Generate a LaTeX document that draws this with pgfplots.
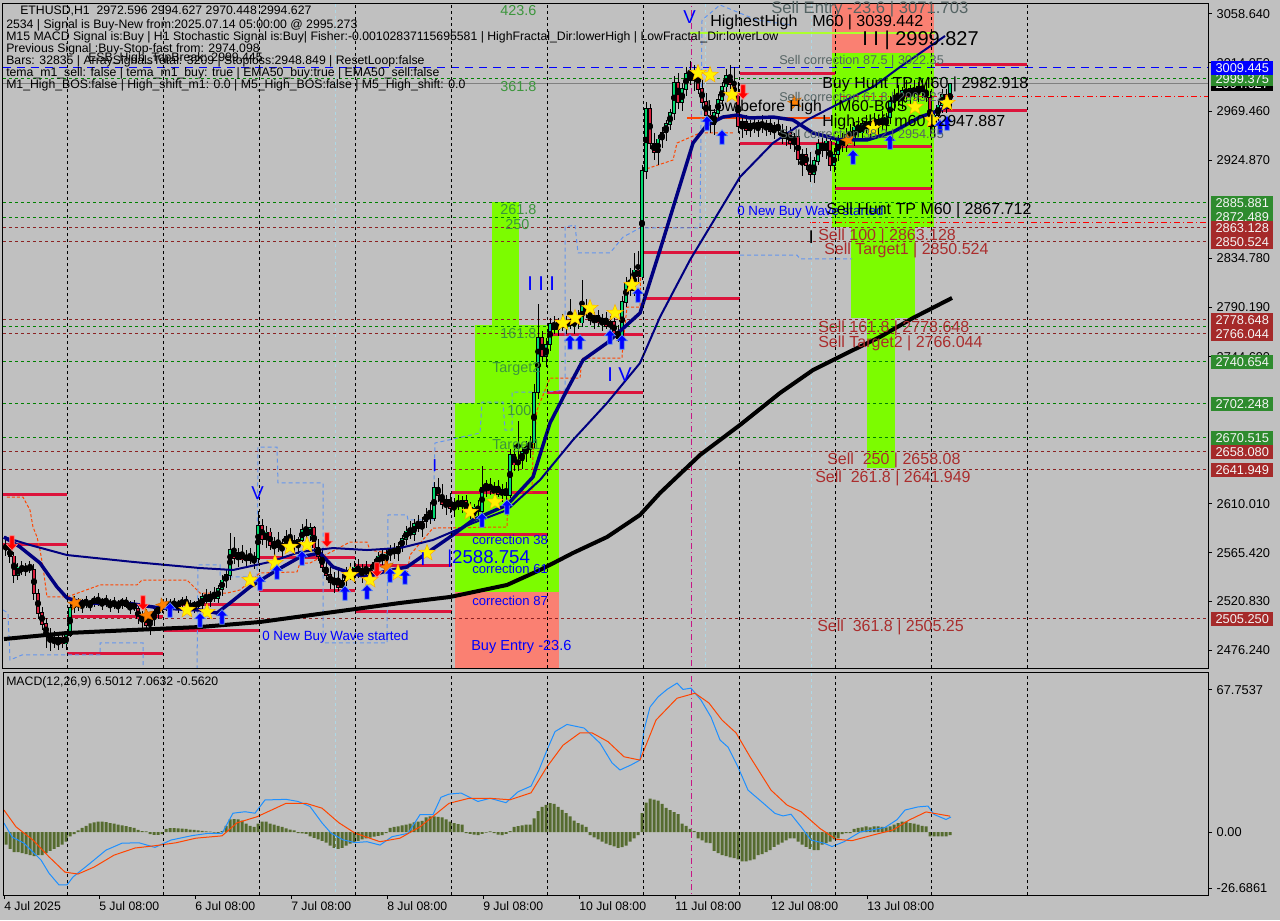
\documentclass[border=0pt]{standalone}
\usepackage{pgfplots}
\usepackage{pgfplotstable}
\pgfplotsset{compat=1.18}
\usepackage{fontspec}
\setmainfont{Liberation Sans}

\definecolor{bg}{RGB}{192,192,192}
\definecolor{lawn}{RGB}{124,252,0}
\definecolor{salm}{RGB}{250,128,114}
\definecolor{crim}{RGB}{220,20,60}
\definecolor{navyc}{RGB}{0,0,128}
\definecolor{lvlgreen}{RGB}{0,128,0}
\definecolor{lvlbrown}{RGB}{139,35,35}
\definecolor{cfblue}{RGB}{100,149,237}
\definecolor{ored}{RGB}{255,69,0}
\definecolor{dodger}{RGB}{30,144,255}
\definecolor{olivec}{RGB}{85,107,47}
\definecolor{bullc}{RGB}{0,215,110}
\definecolor{bearc}{RGB}{215,30,60}
\definecolor{tagg}{RGB}{46,139,46}
\definecolor{tagb}{RGB}{165,42,42}
\definecolor{txtg}{RGB}{60,150,60}
\definecolor{txtgray}{RGB}{85,100,100}
\definecolor{txtbr}{RGB}{170,45,45}
\definecolor{lblue}{RGB}{173,216,230}
\definecolor{magc}{RGB}{199,21,133}
\definecolor{ygreen}{RGB}{173,255,47}

\newcommand{\fs}[1]{\fontsize{#1}{#1}\selectfont}

% filled five pointed star
\pgfdeclareplotmark{fstar}{%
  \pgfpathmoveto{\pgfpointpolar{90}{\pgfplotmarksize}}%
  \pgfpathlineto{\pgfpointpolar{126}{0.42\pgfplotmarksize}}%
  \pgfpathlineto{\pgfpointpolar{162}{\pgfplotmarksize}}%
  \pgfpathlineto{\pgfpointpolar{198}{0.42\pgfplotmarksize}}%
  \pgfpathlineto{\pgfpointpolar{234}{\pgfplotmarksize}}%
  \pgfpathlineto{\pgfpointpolar{270}{0.42\pgfplotmarksize}}%
  \pgfpathlineto{\pgfpointpolar{306}{\pgfplotmarksize}}%
  \pgfpathlineto{\pgfpointpolar{342}{0.42\pgfplotmarksize}}%
  \pgfpathlineto{\pgfpointpolar{18}{\pgfplotmarksize}}%
  \pgfpathlineto{\pgfpointpolar{54}{0.42\pgfplotmarksize}}%
  \pgfpathclose\pgfusepathqfillstroke}
% arrows
\pgfdeclareplotmark{uparr}{%
  \pgfpathmoveto{\pgfpoint{0pt}{1.3\pgfplotmarksize}}%
  \pgfpathlineto{\pgfpoint{-1.0\pgfplotmarksize}{0.2\pgfplotmarksize}}%
  \pgfpathlineto{\pgfpoint{-0.4\pgfplotmarksize}{0.2\pgfplotmarksize}}%
  \pgfpathlineto{\pgfpoint{-0.4\pgfplotmarksize}{-1.3\pgfplotmarksize}}%
  \pgfpathlineto{\pgfpoint{0.4\pgfplotmarksize}{-1.3\pgfplotmarksize}}%
  \pgfpathlineto{\pgfpoint{0.4\pgfplotmarksize}{0.2\pgfplotmarksize}}%
  \pgfpathlineto{\pgfpoint{1.0\pgfplotmarksize}{0.2\pgfplotmarksize}}%
  \pgfpathclose\pgfusepathqfillstroke}
\pgfdeclareplotmark{dnarr}{%
  \pgfpathmoveto{\pgfpoint{0pt}{-1.3\pgfplotmarksize}}%
  \pgfpathlineto{\pgfpoint{-1.0\pgfplotmarksize}{-0.2\pgfplotmarksize}}%
  \pgfpathlineto{\pgfpoint{-0.4\pgfplotmarksize}{-0.2\pgfplotmarksize}}%
  \pgfpathlineto{\pgfpoint{-0.4\pgfplotmarksize}{1.3\pgfplotmarksize}}%
  \pgfpathlineto{\pgfpoint{0.4\pgfplotmarksize}{1.3\pgfplotmarksize}}%
  \pgfpathlineto{\pgfpoint{0.4\pgfplotmarksize}{-0.2\pgfplotmarksize}}%
  \pgfpathlineto{\pgfpoint{1.0\pgfplotmarksize}{-0.2\pgfplotmarksize}}%
  \pgfpathclose\pgfusepathqfillstroke}

% H1 candles: pixel column, open, high, low, close
\pgfplotstableread{
x o h l c
6 2572 2580 2562 2568
10 2568 2574 2556 2562
14 2562 2566 2538 2545
18 2545 2556 2540 2552
22 2552 2558 2545 2549
26 2549 2556 2544 2553
30 2553 2558 2547 2550
34 2550 2555 2522 2528
38 2528 2532 2505 2510
42 2510 2516 2495 2500
46 2500 2506 2478 2490
50 2490 2496 2475 2486
54 2486 2494 2478 2483
58 2483 2490 2476 2488
62 2488 2492 2478 2482
66 2482 2494 2476 2490
70 2490 2520 2488 2515
74 2515 2526 2510 2520
78 2520 2524 2512 2516
82 2516 2523 2510 2521
86 2521 2526 2515 2518
90 2518 2522 2512 2520
94 2520 2526 2516 2523
98 2523 2528 2517 2519
102 2519 2524 2513 2522
106 2522 2527 2516 2518
110 2518 2523 2511 2520
114 2520 2525 2514 2517
118 2517 2522 2510 2519
122 2519 2524 2514 2521
126 2521 2525 2515 2516
130 2516 2521 2509 2518
134 2518 2522 2512 2514
138 2514 2519 2500 2505
142 2505 2512 2496 2508
146 2508 2514 2494 2499
150 2499 2510 2490 2506
154 2506 2514 2498 2511
158 2511 2518 2505 2515
162 2515 2521 2510 2518
166 2518 2524 2512 2516
170 2516 2523 2511 2520
174 2520 2524 2514 2517
178 2517 2522 2510 2519
182 2519 2525 2514 2521
186 2521 2526 2515 2518
190 2518 2522 2512 2516
194 2516 2521 2510 2519
198 2519 2524 2513 2517
202 2517 2528 2512 2525
206 2525 2532 2518 2521
210 2521 2530 2516 2527
214 2527 2534 2520 2524
218 2524 2536 2519 2532
222 2532 2545 2526 2540
226 2540 2550 2533 2545
230 2545 2583 2540 2568
234 2568 2580 2555 2560
238 2560 2570 2552 2565
242 2565 2572 2556 2559
246 2559 2568 2552 2563
250 2563 2570 2555 2558
254 2558 2566 2550 2562
258 2560 2604 2556 2590
262 2590 2596 2572 2578
266 2578 2590 2570 2584
270 2584 2588 2568 2572
274 2572 2580 2562 2575
278 2575 2584 2566 2570
282 2570 2578 2560 2574
286 2574 2586 2568 2580
290 2580 2588 2572 2576
294 2576 2582 2565 2571
298 2571 2580 2564 2577
302 2577 2592 2572 2586
306 2586 2596 2578 2581
310 2581 2593 2576 2588
314 2588 2590 2566 2570
318 2570 2578 2558 2562
322 2562 2570 2548 2552
326 2552 2560 2540 2545
330 2545 2552 2532 2538
334 2538 2548 2528 2542
338 2542 2550 2530 2534
342 2534 2546 2528 2540
346 2540 2552 2535 2548
350 2548 2556 2540 2545
354 2545 2558 2538 2552
358 2552 2560 2542 2547
362 2547 2555 2538 2550
366 2550 2558 2543 2546
370 2546 2554 2540 2551
374 2551 2560 2545 2556
378 2556 2566 2550 2562
382 2562 2570 2554 2558
386 2558 2568 2552 2564
390 2564 2572 2558 2568
394 2568 2574 2560 2565
398 2565 2575 2558 2571
402 2571 2582 2566 2578
406 2578 2590 2572 2585
410 2585 2594 2578 2582
414 2582 2596 2576 2592
418 2592 2600 2584 2588
422 2588 2598 2580 2594
426 2594 2606 2588 2600
430 2600 2612 2592 2597
434 2597 2630 2594 2625
438 2625 2634 2612 2618
442 2618 2628 2605 2610
446 2610 2618 2600 2614
450 2614 2620 2602 2606
454 2606 2615 2598 2611
458 2611 2618 2604 2608
462 2608 2617 2602 2613
466 2613 2618 2600 2604
470 2604 2612 2596 2600
474 2600 2610 2594 2607
478 2607 2614 2598 2603
482 2603 2645 2600 2625
486 2625 2632 2616 2628
490 2628 2634 2618 2622
494 2622 2630 2614 2626
498 2626 2632 2616 2619
502 2619 2628 2612 2623
506 2623 2630 2614 2618
510 2618 2660 2615 2655
514 2655 2664 2640 2646
518 2646 2686 2640 2650
522 2650 2662 2642 2658
526 2658 2668 2648 2662
530 2662 2672 2652 2666
534 2666 2720 2660 2712
538 2712 2793 2706 2762
542 2762 2768 2740 2745
546 2745 2762 2735 2756
550 2756 2780 2750 2775
554 2775 2782 2766 2770
558 2770 2780 2764 2776
562 2776 2784 2768 2772
566 2772 2782 2766 2778
570 2778 2798 2770 2774
574 2774 2784 2766 2780
578 2780 2788 2770 2776
582 2776 2815 2772 2792
586 2792 2798 2780 2785
590 2785 2790 2774 2778
594 2778 2786 2770 2782
598 2782 2788 2772 2776
602 2776 2784 2768 2780
606 2780 2786 2770 2773
610 2773 2782 2766 2777
614 2777 2780 2762 2766
618 2766 2774 2758 2762
622 2762 2800 2758 2795
626 2795 2818 2790 2812
630 2812 2826 2800 2806
634 2806 2840 2800 2824
638 2824 2842 2812 2818
642 2818 2920 2815 2915
646 2915 2978 2908 2972
650 2972 2976 2935 2940
654 2940 2950 2925 2932
658 2932 2948 2920 2944
662 2944 2955 2936 2950
666 2950 2962 2942 2958
670 2958 2972 2952 2968
674 2968 3002 2962 2996
678 2996 3005 2972 2978
682 2978 2995 2970 2990
686 2990 3010 2984 3004
690 3004 3016 2994 2998
694 2998 3012 2988 3006
698 3006 3010 2985 2990
702 2990 2998 2972 2978
706 2978 2986 2960 2966
710 2966 2975 2950 2958
714 2958 2972 2948 2968
718 2968 2985 2962 2980
722 2980 2996 2974 2992
726 2992 3008 2986 3002
730 3002 3012 2990 2994
734 2994 3010 2980 2985
738 2985 2996 2950 2956
742 2956 2966 2945 2960
746 2960 2966 2948 2952
750 2952 2962 2946 2958
754 2958 2964 2950 2954
758 2954 2962 2946 2959
762 2959 2966 2950 2955
766 2955 2962 2947 2958
770 2958 2965 2948 2951
774 2951 2960 2944 2956
778 2956 2963 2948 2952
782 2952 2958 2940 2945
786 2945 2956 2938 2950
790 2950 2955 2935 2940
794 2940 2950 2932 2946
798 2946 2952 2920 2926
802 2926 2935 2910 2930
806 2930 2936 2916 2920
810 2920 2932 2905 2912
814 2912 2928 2904 2924
818 2924 2944 2920 2940
822 2940 2948 2928 2934
826 2934 2946 2926 2942
830 2942 2945 2915 2920
834 2920 2936 2914 2930
838 2930 2948 2924 2944
842 2944 2950 2932 2938
846 2938 2954 2932 2948
850 2948 2958 2940 2944
854 2944 2960 2938 2955
858 2955 2964 2946 2950
862 2950 2962 2944 2958
866 2958 2966 2950 2954
870 2954 2964 2946 2960
874 2960 2968 2950 2956
878 2956 2966 2948 2962
882 2962 2970 2952 2958
886 2958 2968 2950 2964
890 2964 2984 2958 2978
894 2978 2990 2970 2984
898 2984 2994 2974 2980
902 2980 2992 2972 2988
906 2988 2998 2978 2984
910 2984 2994 2976 2990
914 2990 2998 2980 2986
918 2986 2996 2978 2992
922 2992 2999 2982 2988
926 2988 2996 2978 2982
930 2982 2988 2946 2956
934 2956 2970 2946 2966
938 2966 2980 2958 2975
942 2975 2990 2968 2985
946 2985 2990 2968 2972.6
950 2972.6 2994.6 2970.4 2994.6
}\candles

% MACD histogram
\pgfplotstableread{
x v
6 -6
10 -8
14 -9.5
18 -9.5
22 -10
26 -10.5
30 -11
34 -11.5
38 -11
42 -11
46 -10
50 -9
54 -8
58 -7
62 -6
66 -4.5
70 -2
74 -1
78 0.8
82 2
86 3
90 4.2
94 4.6
98 5
102 5
106 4.8
110 4.3
114 4
118 3.6
122 3.2
126 2.8
130 2.4
134 2
138 1
142 0.5
146 0.3
150 -1
154 -1.3
158 -1.3
162 -1
166 1.5
170 1.9
174 1.9
178 1.8
182 1.6
186 1.5
190 1.2
194 1.0
198 0.8
202 0.6
206 0.3
210 0.2
214 -0.3
218 -0.4
222 0.5
226 3
230 6
234 6.2
238 6
242 5.5
246 4
250 3
254 2.5
258 4
262 5
266 5
270 4
274 3.5
278 3
282 2.5
286 1.8
290 1.2
294 0.8
298 -0.5
302 -0.6
306 -0.8
310 -2
314 -2.8
318 -3.5
322 -4.2
326 -5
330 -6.5
334 -7.5
338 -8
342 -7.5
346 -6.5
350 -5.5
354 -5
358 -4.2
362 -3.5
366 -3
370 -2.6
374 -2.2
378 -1.8
382 -1.5
386 -0.5
390 2
394 2.5
398 2.7
402 3.2
406 3.5
410 4
414 4.6
418 5
422 5.3
426 7
430 7.5
434 7.5
438 7.2
442 7
446 6
450 5
454 4.3
458 3.8
462 3.5
466 -0.5
470 -0.8
474 -1.2
478 -1.5
482 -0.8
486 -0.3
490 0.3
494 -0.5
498 -1.2
502 -1.5
506 -0.8
510 0.5
514 2.5
518 2.8
522 3.2
526 3.5
530 3.6
534 6.5
538 10
542 12
546 13
550 13.8
554 13.5
558 12
562 10.6
566 9
570 7.5
574 5.5
578 4.3
582 3.5
586 2.5
590 -1.5
594 -2.5
598 -3.5
602 -4.5
606 -5.5
610 -6.2
614 -6.8
618 -7.5
622 -7.2
626 -6.5
630 -4.5
634 -3
638 -1.5
642 9
646 14
650 16
654 15.5
658 15
662 13.5
666 11.5
670 10.5
674 9.5
678 8.5
682 4
686 3
690 1.5
694 0.5
698 -3
702 -4
706 -5
710 -5.3
714 -9
718 -10
722 -11
726 -11.5
730 -12
734 -12.4
738 -13
742 -14
746 -14
750 -13.5
754 -13
758 -11
762 -10.5
766 -9.5
770 -8.6
774 -7
778 -6
782 -5
786 -4
790 -3
794 -3
798 -4.5
802 -6
806 -7
810 -8
814 -8.6
818 -8.6
822 -6
826 -5.3
830 -4.5
834 -3.5
838 -3
842 -1
846 -0.5
850 -0.5
854 1.5
858 2
862 2.3
866 2.7
870 2.2
874 2.7
878 2.7
882 2.5
886 2.2
890 2.7
894 3.5
898 4.3
902 5
906 5
910 4.3
914 4
918 3.5
922 3
926 2.7
930 -2
934 -2
938 -2
942 -2
946 -2
950 -1.5
}\hist

\pgfplotsset{
  lvlg/.style={lvlgreen, line width=0.75pt, dash pattern=on 2.25pt off 2.25pt},
  lvlb/.style={lvlbrown, line width=0.75pt, dash pattern=on 2.25pt off 2.25pt},
  body/.style={only marks, mark=none, error bars/.cd, y dir=both, y explicit, error mark=none},
}

\begin{document}
\begin{tikzpicture}
\fill[bg] (0,0) rectangle (960pt,-690pt);
\path[use as bounding box] (0,0) rectangle (960pt,-690pt);

%================ price panel
\begin{axis}[
  at={(2.25pt,-501pt)}, anchor=south west,
  scale only axis, width=903.75pt, height=498pt,
  xmin=3, xmax=1208, ymin=2459.76, ymax=3067.80,
  axis background/.style={fill=bg},
  axis line style={black, line width=0.75pt},
  axis on top,
  xtick={67,163,259,355,451,547,643,739,835,931,1027},
  xticklabels={},
  xmajorgrids,
  major x grid style={black, line width=0.75pt, dash pattern=on 2.25pt off 2.25pt},
  xtick style={draw=none},
  ytick={3058.64,3014.05,2969.46,2924.87,2834.78,2790.19,2744.69,2610.01,2565.42,2520.83,2476.24},
  yticklabels={3058.640,3014.050,2969.460,2924.870,2834.780,2790.190,2744.690,2610.010,2565.420,2520.830,2476.240},
  ytick pos=right, yticklabel pos=right,
  tick align=outside, major tick length=3pt,
  ytick style={black, line width=0.75pt},
  yticklabel style={font=\fs{9.6}, text=black, xshift=0pt},
]
% zones
\addplot[fill=salm, draw=none] coordinates {(455,2529.36) (559,2529.36) (559,2450) (455,2450)};
\addplot[fill=lawn, draw=none] coordinates {(455,2529.36) (559,2529.36) (559,2702.43) (455,2702.43)};
\addplot[fill=lawn, draw=none] coordinates {(475,2702.43) (559,2702.43) (559,2773.85) (475,2773.85)};
\addplot[fill=lawn, draw=none] coordinates {(492,2773.85) (519,2773.85) (519,2886.50) (492,2886.50)};
\addplot[fill=salm, draw=none] coordinates {(832,3080) (934,3080) (934,3022.93) (832,3022.93)};
\addplot[fill=lawn, draw=none] coordinates {(832,3022.93) (934,3022.93) (934,2863.59) (832,2863.59)};
\addplot[fill=lawn, draw=none] coordinates {(851,2863.59) (915,2863.59) (915,2780.26) (851,2780.26)};
\addplot[fill=lawn, draw=none] coordinates {(867,2780.26) (895,2780.26) (895,2642.90) (867,2642.90)};

% level lines
\addplot[lvlg] coordinates {(3,2999.375) (1208,2999.375)};
\addplot[lvlg] coordinates {(3,2885.881) (1208,2885.881)};
\addplot[lvlg] coordinates {(3,2872.489) (1208,2872.489)};
\addplot[lvlg] coordinates {(3,2772.5) (1208,2772.5)};
\addplot[lvlg] coordinates {(3,2740.654) (1208,2740.654)};
\addplot[lvlg] coordinates {(3,2702.248) (1208,2702.248)};
\addplot[lvlg] coordinates {(3,2670.515) (1208,2670.515)};
\addplot[lvlb] coordinates {(3,2863.128) (1208,2863.128)};
\addplot[lvlb] coordinates {(3,2850.524) (1208,2850.524)};
\addplot[lvlb] coordinates {(3,2778.648) (1208,2778.648)};
\addplot[lvlb] coordinates {(3,2766.044) (1208,2766.044)};
\addplot[lvlb] coordinates {(3,2658.080) (1208,2658.080)};
\addplot[lvlb] coordinates {(3,2641.949) (1208,2641.949)};
\addplot[lvlb] coordinates {(3,2505.250) (1208,2505.250)};
\addplot[blue, line width=0.75pt, dash pattern=on 6pt off 4.5pt] coordinates {(3,3009.445) (1208,3009.445)};
\addplot[gray, line width=0.75pt] coordinates {(3,2994.627) (1208,2994.627)};
\addplot[red, line width=0.75pt, dash pattern=on 4.5pt off 2.25pt on 0.75pt off 2.25pt] coordinates {(840,2982.918) (1208,2982.918)};
\addplot[red, line width=0.75pt, dash pattern=on 4.5pt off 2.25pt on 0.75pt off 2.25pt] coordinates {(810,2867.712) (1208,2867.712)};

% vertical markers
\addplot[lblue, line width=0.75pt, dash pattern=on 2.25pt off 2.25pt] coordinates {(335,2450) (335,3080)};
\addplot[lblue, line width=0.75pt, dash pattern=on 2.25pt off 2.25pt] coordinates {(705,2450) (705,3080)};
\addplot[lblue, line width=0.75pt, dash pattern=on 2.25pt off 2.25pt] coordinates {(811,2450) (811,3080)};
\addplot[magc, line width=0.75pt, dash pattern=on 4.5pt off 2.25pt on 0.75pt off 2.25pt] coordinates {(691,2450) (691,3080)};

% swing boxes
\addplot[crim, line width=2.25pt, unbounded coords=jump] coordinates {
(2,2619.10) (67,2619.10) (67,nan) (2,2573.31) (67,2573.31) (67,nan)
(67,2507.38) (163,2507.38) (163,nan) (67,2473.5) (163,2473.5) (163,nan)
(163,2517.47) (259,2517.47) (259,nan) (163,2493.66) (259,2493.66) (259,nan)
(259,2560.5) (355,2560.5) (355,nan) (259,2530.3) (355,2530.3) (355,nan)
(355,2553.2) (452,2553.2) (452,nan) (355,2511.9) (452,2511.9) (452,nan)
(452,2620.9) (547,2620.9) (547,nan) (452,2582.4) (547,2582.4) (547,nan)
(547,2765.6) (643,2765.6) (643,nan) (547,2711.6) (643,2711.6) (643,nan)
(643,2839.8) (740,2839.8) (740,nan) (643,2797.7) (740,2797.7) (740,nan)
(740,3004.6) (835,3004.6) (835,nan) (740,2940.5) (835,2940.5) (835,nan)
(835,2936.9) (932,2936.9) (932,nan) (835,2898.4) (932,2898.4) (932,nan)
(935,3012.85) (1027,3012.85) (1027,nan) (935,2970.7) (1027,2970.7)
};
\addplot[ygreen, line width=1.1pt] coordinates {(690,3041.2) (935,3041.2)};
\addplot[ored, line width=0.9pt] coordinates {(687,2963.4) (830,2963.4)};

% channel (dashed)
\addplot[cfblue, line width=0.75pt, dash pattern=on 3pt off 2.25pt] coordinates {
(3,2512.9) (8,2510.1) (10,2467.1) (22,2471.7) (100,2471.7) (100,2482.7) (143,2482.7)
(143,2455) (197,2455) (198,2554.1) (220,2554.1) (220,2543.1) (257,2543.1) (258,2662.1)
(277,2662.1) (278,2629.2) (323,2629.2) (323,2482.7) (387,2482.7) (388,2599.9) (407,2599.9)
(408,2595.3) (433,2595.3) (435,2665.8) (480,2674.9) (482,2703.3) (503,2703.3) (505,2677.7)
(512,2677.7) (512,2712.5) (547,2712.5) (565,2714.3) (565,2863.6) (575,2865.4) (578,2839.8)
(610,2839.8) (623,2854.4) (640,2862.7) (700,2862.7) (702,3053.1) (720,3066.9) (757,3053.1) (790,3048.6)};
\addplot[cfblue, line width=0.75pt, dash pattern=on 3pt off 2.25pt] coordinates {
(740,2837.9) (797,2837.9) (800,2834.3) (852,2834.3)};
\addplot[ored, line width=0.75pt, dash pattern=on 2.25pt off 1.5pt] coordinates {
(7,2616.3) (23,2616.3) (30,2604.4) (33,2588.9) (37,2579.7) (40,2567.8) (43,2552.3) (47,2524.8)
(67,2524.8) (100,2535.8) (137,2535.8) (142,2540.3) (187,2540.3) (197,2531.2) (200,2528.4)
(227,2528.4) (240,2531.2) (260,2546.8) (297,2547.7) (300,2555.9) (310,2555.9) (350,2575.1)
(367,2575.1) (370,2567.8) (387,2565.1) (388,2544.9) (407,2544.9) (410,2563.2) (433,2587.9)
(507,2588.9) (508,2620.9) (532,2620.9) (533,2656.6) (537,2696.0) (550,2725.3) (580,2725.3)
(582,2743.6) (622,2743.6) (623,2757.4) (627,2790.3) (640,2790.3) (642,2897.5) (643,2915.8)
(673,2924.9) (677,2940.5) (700,2949.7) (733,2949.7)};

% candles: wicks then bodies
\addplot[body, error bar style={draw=black, line width=0.75pt}]
  table[x=x, y expr={(\thisrow{h}+\thisrow{l})/2}, y error expr={(\thisrow{h}-\thisrow{l})/2}] {\candles};
\addplot[body, error bar style={draw=black, line width=2.5pt}]
  table[x=x, y expr={(\thisrow{o}+\thisrow{c})/2}, y error expr={abs(\thisrow{c}-\thisrow{o})/2+0.6}] {\candles};
\addplot[restrict expr to domain={\thisrow{c}-\thisrow{o}}{0:10000}, body, error bar style={draw=bullc, line width=1.7pt}]
  table[x=x, y expr={(\thisrow{o}+\thisrow{c})/2}, y error expr={max(abs(\thisrow{c}-\thisrow{o})/2-0.1,0)}] {\candles};
\addplot[restrict expr to domain={\thisrow{c}-\thisrow{o}}{-10000:-0.01}, body, error bar style={draw=bearc, line width=1.7pt}]
  table[x=x, y expr={(\thisrow{o}+\thisrow{c})/2}, y error expr={max(abs(\thisrow{c}-\thisrow{o})/2-0.1,0)}] {\candles};

% moving averages
\addplot[black, line width=3pt] coordinates {
(4,2486.3) (67,2491.8) (133,2494.6) (200,2497.3) (260,2501.9) (333,2511.0) (400,2519.3)
(450,2524.8) (507,2535.8) (540,2549.5) (573,2565.1) (607,2579.7) (640,2599.9) (660,2620.0)
(700,2654.8) (740,2682.3) (780,2711.6) (813,2732.6) (847,2748.2) (880,2762.9) (913,2780.3) (952,2798.6)};
\addplot[navyc, line width=1.5pt] coordinates {
(4,2579.7) (30,2572.4) (67,2563.2) (133,2556.9) (200,2551.3) (233,2549.5) (270,2556.9)
(300,2566.0) (333,2569.6) (367,2567.8) (400,2569.6) (433,2577.0) (473,2592.5) (507,2604.4)
(540,2631.9) (573,2668.6) (607,2702.4) (640,2739.0) (660,2781.2) (690,2833.4) (740,2909.4)
(773,2940.5) (807,2961.6) (840,2977.1) (873,2991.8) (900,3010.1) (945,3038.5)};
\addplot[navyc, line width=2.6pt] coordinates {
(4,2579.7) (20,2570.6) (40,2555.9) (57,2534.0) (67,2523.9) (83,2519.3) (133,2518.4)
(160,2514.7) (200,2512.9) (217,2510.1) (230,2519.3) (250,2534.0) (277,2549.5) (300,2561.4)
(320,2565.1) (333,2552.3) (350,2546.8) (367,2543.1) (383,2547.7) (407,2552.3) (427,2565.1)
(450,2579.7) (473,2595.3) (507,2609.0) (533,2634.7) (550,2684.1) (567,2714.3) (583,2741.8)
(607,2757.4) (640,2784.8) (660,2842.5) (693,2940.5) (707,2957.0) (723,2964.3) (737,2966.1)
(750,2963.4) (773,2964.3) (793,2961.6) (813,2949.7) (840,2943.3) (867,2943.3) (893,2950.6)
(920,2964.3) (940,2970.7) (950,2975.3)};

% signals
\addplot[only marks, mark=fstar, mark size=6.5pt, mark options={fill=yellow, draw=orange!70!yellow, line width=0.3pt}] coordinates {
(187,2512.9) (207,2511.0) (250,2540.3) (275,2555.9) (290,2570.6) (307,2572.4) (350,2544.9)
(370,2540.3) (398,2546.8) (427,2565.1) (470,2602.6) (495,2611.8) (563,2775.7) (575,2780.3)
(590,2789.4) (615,2784.8) (632,2810.5) (698,3004.6) (710,3002.8) (732,2984.5) (873,2954.3)
(915,2973.5) (932,2961.6) (947,2977.1)};
\addplot[only marks, mark=fstar, mark size=5.5pt, mark options={fill=orange, draw=orange!80!black, line width=0.3pt, rotate=15}] coordinates {
(75,2519.3) (147,2508.3) (163,2517.5) (387,2552.3) (795,2978.1) (848,2943.3)};
\addplot[only marks, mark=uparr, mark size=4.2pt, mark options={fill=blue, draw=cfblue, line width=0.5pt}] coordinates {
(170,2512.9) (200,2503.7) (222,2506.5) (260,2537.6) (277,2547.7) (302,2560.5) (345,2528.4)
(367,2529.4) (390,2544.9) (405,2543.1) (482,2595.3) (507,2607.2) (570,2758.3) (580,2758.3)
(610,2762.9) (622,2758.3) (638,2801.3) (707,2958.8) (722,2946.0) (853,2927.7) (890,2941.4)
(940,2955.2) (947,2958.8)};
\addplot[only marks, mark=dnarr, mark size=4.2pt, mark options={fill=red, draw=red!50!white, line width=0.5pt}] coordinates {
(12,2574.2) (143,2519.3) (327,2577.0) (377,2549.5) (743,2987.2)};
\end{axis}

%================ MACD panel
\begin{axis}[
  at={(2.25pt,-671.25pt)}, anchor=south west,
  scale only axis, width=903.75pt, height=167.25pt,
  xmin=3, xmax=1208, ymin=-30, ymax=76.3,
  axis background/.style={fill=bg},
  axis line style={black, line width=0.75pt},
  axis on top,
  xtick={4,99,195,291,387,483,579,675,771,867},
  xticklabels={4 Jul 2025,5 Jul 08:00,6 Jul 08:00,7 Jul 08:00,8 Jul 08:00,9 Jul 08:00,10 Jul 08:00,11 Jul 08:00,12 Jul 08:00,13 Jul 08:00},
  xtick pos=bottom,
  xticklabel style={anchor=north west, inner sep=0pt, font=\fs{9.2}, yshift=-1.5pt},
  extra x ticks={67,163,259,355,451,547,643,739,835,931,1027},
  extra x tick labels={},
  extra x tick style={grid=major, major tick length=0pt},
  major x grid style={black, line width=0.75pt, dash pattern=on 2.25pt off 2.25pt},
  ytick={-26.6861,0,67.7537},
  yticklabels={-26.6861,0.00,67.7537},
  ytick pos=right, yticklabel pos=right,
  tick align=outside, major tick length=3pt,
  tick style={black, line width=0.75pt},
  yticklabel style={font=\fs{9.6}, text=black},
]
\addplot[ybar, bar width=3, fill=olivec, draw=none] table[x=x, y=v] {\hist};
\addplot[lblue, line width=0.75pt, dash pattern=on 2.25pt off 2.25pt] coordinates {(335,-40) (335,90)};
\addplot[lblue, line width=0.75pt, dash pattern=on 2.25pt off 2.25pt] coordinates {(811,-40) (811,90)};
\addplot[magc, line width=0.75pt, dash pattern=on 4.5pt off 2.25pt on 0.75pt off 2.25pt] coordinates {(691,-40) (691,90)};
\addplot[dodger, line width=0.75pt] coordinates {
(4,4.3) (12,-2.3) (24,-5.3) (41,-13.3) (49,-19.6) (59,-25.2) (67,-25.2) (73,-21.4) (90,-14.9)
(106,-8.6) (122,-5.3) (139,-5.1) (155,-7.3) (171,-3.8) (192,-1.7) (208,-0.6) (222,-0.6)
(233,9.0) (245,9.7) (255,9.0) (265,15.3) (286,15.6) (298,14.6) (310,12.2) (322,4.4) (331,-0.5)
(343,-3.7) (355,-5.0) (367,-4.6) (380,-6.2) (392,-2.2) (408,-0.6) (420,8.3) (433,8.3)
(441,16.6) (449,18.1) (461,18.6) (478,14.6) (490,16.1) (506,14.0) (518,19.2) (531,21.9)
(539,29.6) (547,39.1) (555,47.9) (567,51.3) (584,49.6) (600,42.4) (612,33.0) (620,29.6)
(631,32.0) (640,34.3) (644,48.6) (650,59.6) (658,64.4) (667,68.0) (677,71.0) (683,68.0)
(691,68.6) (701,62.9) (711,54.8) (720,43.9) (728,40.5) (738,31.0) (748,20.0) (762,14.3)
(775,8.9) (783,7.7) (791,8.5) (801,2.5) (811,-3.8) (824,-5.3) (832,-6.9) (844,-4.6)
(860,0) (885,2.2) (897,5.9) (905,10.5) (918,12.0) (928,12.4) (934,8.4) (946,6.0) (951,7.2)};
\addplot[ored, line width=0.75pt] coordinates {
(4,10.5) (16,2.5) (33,-3.8) (49,-11.8) (65,-19.1) (78,-20.0) (94,-16.7) (114,-11.0)
(135,-7.6) (155,-6.5) (176,-5.1) (196,-2.9) (222,-1.8) (237,4.4) (257,7.3) (286,13.7)
(306,13.7) (322,11.4) (339,4.4) (355,-0.5) (380,-4.6) (400,-2.9) (420,2.5) (449,13.7)
(469,16.1) (490,16.1) (510,15.4) (531,18.7) (547,31.1) (563,41.4) (580,47.3) (592,47.3)
(608,43.1) (624,35.9) (640,34.3) (656,53.4) (677,63.8) (695,66.2) (709,61.5) (722,53.4)
(736,47.3) (750,35.9) (771,20.0) (787,12.9) (801,9.7) (820,1.7) (836,-3.4) (852,-4.1)
(873,-1.4) (893,1.0) (909,5.7) (926,9.6) (950,7.6)};
\end{axis}

%================ texts and price tags (pixel positions)
\begin{scope}[x=0.75pt, y=-0.75pt]
\tikzset{t/.style={anchor=west, inner sep=0pt, font=\fs{9.2}, text=black},
  tag/.style={anchor=west, fill=#1, text=white!92!gray, font=\fs{9.6}, minimum width=46.5pt,
    minimum height=10.5pt, inner sep=0pt}}
\node[t] at (20,11) {ETHUSD,H1\ \ 2972.596 2994.627 2970.448 2994.627};
\node[t] at (6,25) {2534 | Signal is Buy-New from:2025.07.14 05:00:00 @ 2995.273};
\node[t] at (6,37) {M15 MACD Signal is:Buy | H1 Stochastic Signal is:Buy| Fisher:-0.00102837115695581 | HighFractal\_Dir:lowerHigh | LowFractal\_Dir:lowerLow};
\node[t] at (6,49) {Previous Signal :Buy-Stop-fast from: 2974.098};
\node[t] at (6,61) {Bars: 32835 | ArraySignalsTotal: 3209 | Stoploss:2948.849 | ResetLoop:false};
\node[t] at (88,58) {ESB\_High\_TopBreak: 2999.445};
\node[t] at (6,73) {tema\_m1\_sell: false | tema\_m1\_buy: true | EMA50\_buy:true | EMA50\_sell:false};
\node[t] at (6,85) {M1\_High\_BOS:false | High\_shift\_m1: 0.0 | M5\_High\_BOS:false | M5\_High\_shift: 0.0};
\node[t] at (6,682) {MACD(12,26,9) 6.5012 7.0632 -0.5620};

% fib labels
\begin{scope}[every node/.style={anchor=west, inner sep=0pt, font=\fs{10.8}, text=txtg}]
\node at (500,11) {423.6};
\node at (500,87) {361.8};
\node at (500,210) {261.8};
\node at (505,225) {250};
\node at (500,334) {161.8};
\node at (492,369) {Target2};
\node at (507,411) {100};
\node at (492,446) {Target1};
\end{scope}

% wave labels
\begin{scope}[every node/.style={anchor=west, inner sep=0pt, text=blue}]
\node[font=\fs{14}] at (251,493) {V};
\node[font=\fs{14}] at (683,17) {V};
\node[font=\fs{15}] at (527,284) {I I I};
\node[font=\fs{15}] at (607,375) {I V};
\node[font=\fs{13}] at (432,466) {I};
\node[font=\fs{14}] at (420,559) {I};
\node[font=\fs{14}] at (447,559) {|2588.754};
\node[font=\fs{9.8}] at (472,540) {correction 38};
\node[font=\fs{9.8}] at (472,569) {correction 61};
\node[font=\fs{9.8}] at (472,601) {correction 87};
\node[font=\fs{10.9}] at (471,647) {Buy Entry -23.6};
\node[font=\fs{10}] at (262,637) {0 New Buy Wave started};
\node[font=\fs{10}] at (737,212) {0 New Buy Wave started};
\end{scope}

% sell side labels
\begin{scope}[every node/.style={anchor=west, inner sep=0pt, font=\fs{9.5}, text=txtgray}]
\node[font=\fs{12.5}] at (771,9) {Sell Entry -23.6 | 3071.703};
\node at (779,61) {Sell correction 87.5 | 3022.35};
\node at (779,98) {Sell correction 61.8 | 2993.22};
\node at (779,135) {Sell correction 38.2 | 2954.55};
\end{scope}
\begin{scope}[every node/.style={anchor=west, inner sep=0pt, font=\fs{12}, text=black}]
\node at (710,22) {HighestHigh};
\node at (812,22) {M60 | 3039.442};
\node[font=\fs{15}] at (862,40) {I I | 2999.827};
\node at (822,84) {Buy Hunt TP M60 | 2982.918};
\node[font=\fs{11.8}] at (707,107) {Low before High};
\node[font=\fs{11.8}] at (838,106) {M60-BOS};
\node at (822,122) {High-shift m60 | 2947.887};
\node at (826,210) {Sell Hunt TP M60 | 2867.712};
\node[font=\bfseries\fs{10}] at (809,237) {|};
\end{scope}
\begin{scope}[every node/.style={anchor=west, inner sep=0pt, font=\fs{12}, text=txtbr}]
\node at (818,236) {Sell 100 | 2863.128};
\node at (824,250) {Sell Target1 | 2850.524};
\node at (818,328) {Sell 161.8 | 2778.648};
\node at (818,343) {Sell Target2 | 2766.044};
\node at (827,460) {Sell\ \ 250 | 2658.08};
\node at (815,478) {Sell\ \ 261.8 | 2641.949};
\node at (817,627) {Sell\ \ 361.8 | 2505.25};
\end{scope}

% price tags on the scale
\node[tag=black] at (1211,84) {2994.627};
\node[tag=tagg] at (1211,79) {2999.375};
\node[tag=blue] at (1211,68) {3009.445};
\node[tag=tagg] at (1211,203) {2885.881};
\node[tag=tagg] at (1211,217) {2872.489};
\node[tag=tagb] at (1211,228) {2863.128};
\node[tag=tagb] at (1211,242) {2850.524};
\node[tag=tagb] at (1211,320) {2778.648};
\node[tag=tagb] at (1211,334) {2766.044};
\node[tag=tagg] at (1211,362) {2740.654};
\node[tag=tagg] at (1211,404) {2702.248};
\node[tag=tagg] at (1211,438) {2670.515};
\node[tag=tagb] at (1211,452) {2658.080};
\node[tag=tagb] at (1211,470) {2641.949};
\node[tag=tagb] at (1211,619) {2505.250};
\end{scope}
\end{tikzpicture}
\end{document}
